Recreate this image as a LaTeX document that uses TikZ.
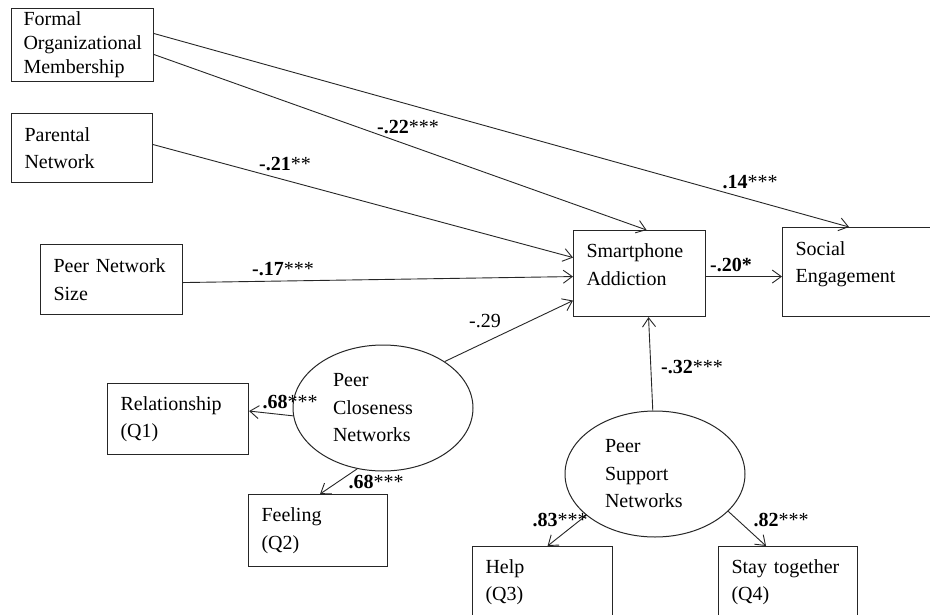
\documentclass[tikz,border=0pt]{standalone}
\usepackage{fontspec}
\setmainfont{Liberation Serif}
\usetikzlibrary{arrows.meta,shapes.geometric}

\begin{document}
\begin{tikzpicture}[x=1pt, y=-1pt, font=\fontsize{20}{27.5}\selectfont,
		var/.style={draw=black!85, line width=1.1pt, rectangle, anchor=north west, align=left, inner xsep=13pt, inner ysep=0pt},
		lat/.style={draw=black!85, line width=1pt, ellipse, minimum width=180pt, minimum height=126pt, text width=100pt, align=left, inner sep=0pt},
		path/.style={draw=black!85, line width=0.9pt, -{Straight Barb[length=9pt,width=13pt]}},
		coef/.style={inner sep=0pt}]

		\useasboundingbox (0,0) rectangle (930,614);
		\clip (0,0) rectangle (930,614);
		\fill [white] (0,0) rectangle (930,614);

		\node [var, text width=118pt, inner xsep=12pt, minimum height=73pt, font=\fontsize{20}{24}\selectfont] (fom) at (11,8) {Formal\\Organizational\\Membership};
		\node [var, text width=115pt, minimum height=69pt] (par) at (11,113) {Parental\\Network};
		\node [var, text width=116pt, minimum height=70pt] (pns) at (40,244) {Peer Network\\Size};
		\node [var, text width=106pt, minimum height=86pt] (sa) at (573,230) {Smartphone\\Addiction\\[-10pt]\mbox{}};
		\node [var, text width=134pt, minimum height=89pt] (se) at (782,227) {Social\\Engagement\\[-8pt]\mbox{}};

		\node [lat] (pcn) at (383,408) {Peer\\Closeness\\Networks};
		\node [lat] (psn) at (655,474) {Peer\\Support\\Networks};

		\node [var, text width=115pt, minimum height=71pt] (rel) at (107,383) {Relationship\\(Q1)};
		\node [var, text width=113pt, minimum height=72pt] (fee) at (248,494) {Feeling\\(Q2)};
		\node [var, text width=114pt, minimum height=71pt] (hlp) at (472,546) {Help\\(Q3)};
		\node [var, text width=113pt, minimum height=71pt] (sty) at (718,546) {Stay together\\(Q4)};

		\draw [path] ([yshift=11.5pt]fom.east) -- ([xshift=67pt]se.north west);
		\draw [path] ([yshift=-9.5pt]fom.east) -- ([xshift=7pt]sa.north);
		\draw [path] ([yshift=3.5pt]par.east) -- ([yshift=16pt]sa.west);
		\draw [path] ([yshift=-3pt]pns.east) -- ([yshift=-3pt]sa.west);
		\draw [path] (pcn.37) -- ([yshift=-27pt]sa.west);
		\draw [path] ([yshift=-3pt]sa.east) -- ([yshift=-3pt]sa.east -| se.west);
		\draw [path] (psn.92) -- ([xshift=9pt]sa.south);
		\draw [path] (pcn.185) -- ([yshift=8pt]rel.east);
		\draw [path] (pcn.247) -- ([xshift=2pt]fee.north);
		\draw [path] (psn.211) -- ([xshift=5pt]hlp.north);
		\draw [path] (psn.333) -- ([xshift=-22pt]sty.north);

		\node [coef] (c22) at (408,127) {\textbf{-.22}***};
		\node [coef] (c14) at (750,182) {\textbf{.14}***};
		\node [coef] (c21) at (285,164) {\textbf{-.21}**};
		\node [coef] (c17) at (283,269) {\textbf{-.17}***};
		\node [coef] (c20) at (731,265) {\textbf{-.20*}};
		\node [coef] (c29) at (485,321) {-.29};
		\node [coef] (c32) at (692,367) {\textbf{-.32}***};
		\node [coef] (c68a) at (290,402) {\textbf{.68}***};
		\node [coef] (c68b) at (376,482) {\textbf{.68}***};
		\node [coef] (c83) at (560,520) {\textbf{.83}***};
		\node [coef] (c82) at (781,520) {\textbf{.82}***};
	\end{tikzpicture}
\end{document}
